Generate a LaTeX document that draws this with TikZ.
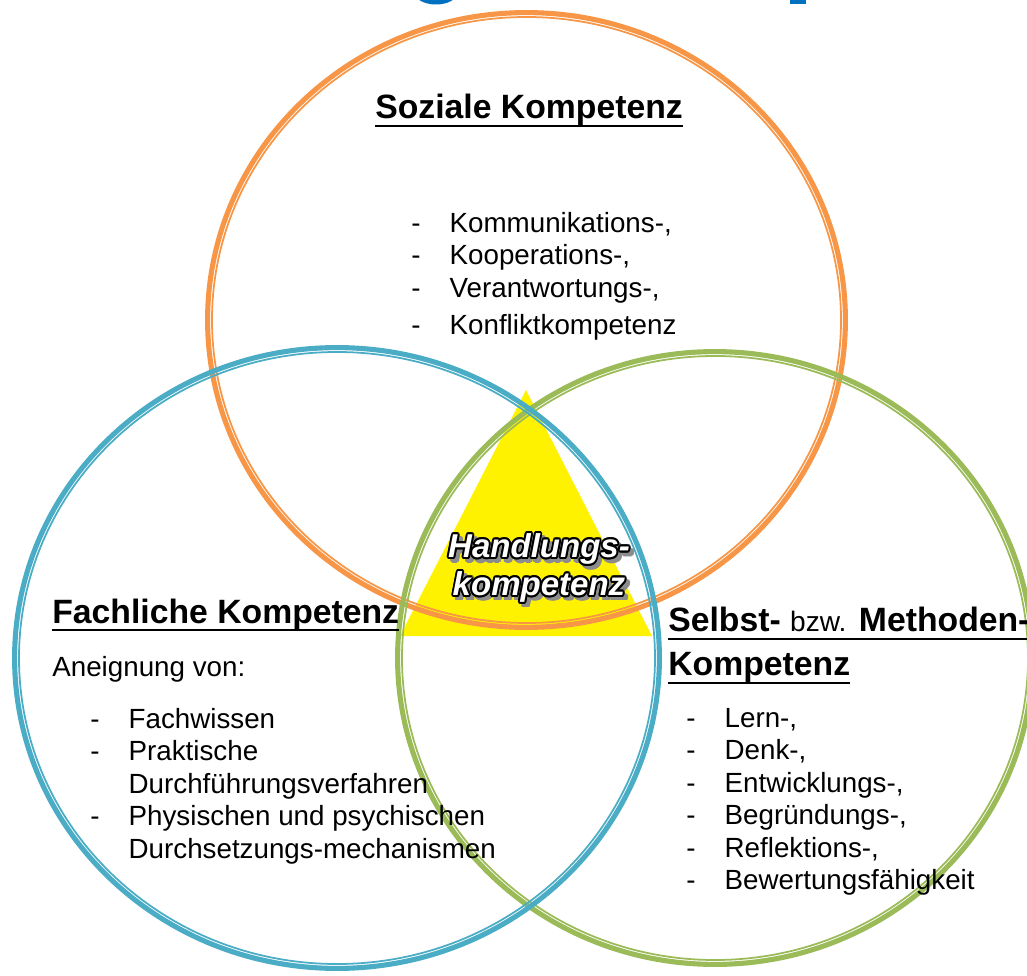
\documentclass[tikz,border=0pt]{standalone}
\usepackage{fontspec}
\setmainfont{Liberation Sans}
\usepackage{contour}
\usetikzlibrary{positioning}
\definecolor{sozorange}{HTML}{F79646}
\definecolor{fachblue}{HTML}{4BACC6}
\definecolor{selbgreen}{HTML}{9BBB59}
\definecolor{titleblue}{HTML}{0070C0}
\definecolor{hkshade}{HTML}{8C8C8C}
\contourlength{1.1pt}
\contournumber{12}
\newcommand{\ulk}[1]{\setbox0=\hbox{#1}\rlap{\rule[-4.8pt]{\wd0}{1.2pt}}\box0}
\newcommand{\itm}[1]{\makebox[21.8pt][l]{-}#1}
\newcommand{\cnt}[1]{\hspace*{21.8pt}#1}

\begin{document}
\begin{tikzpicture}[x=0.02cm, y=-0.02cm,
  head/.style={anchor=base west, inner sep=0pt, font=\fontsize{19.2}{25}\selectfont\bfseries},
  body/.style={anchor=north west, inner sep=0pt, align=left, font=\fontsize{15.8}{18.5}\selectfont},
  hk/.style={inner sep=0pt, align=center, text=white, font=\fontsize{18.8}{21.6}\selectfont\bfseries\itshape},
  outer ring/.style={line width=2.9pt},
  inner ring/.style={line width=1pt}]

\useasboundingbox (0,0) rectangle (1027,976);
\clip (0,0) rectangle (1027,976);

% Reste des Titels
\fill[titleblue] (436,-7) ellipse [x radius=21, y radius=11.5];
\fill[titleblue] (790,-10) rectangle (806,4);

% Dreieck
\coordinate (top) at (526,390);
\coordinate (bl) at (400,636);
\coordinate (br) at (652,636);
\fill[yellow] (top) -- (bl) -- (br) -- cycle;

% Kreise
\coordinate (soz) at (526.5,320);
\coordinate (fach) at (337,658);
\coordinate (selb) at (715,658);
\foreach \c/\col/\rx/\ry in {soz/sozorange/321.5/310, selb/selbgreen/320/309, fach/fachblue/325/313}{
  \draw[outer ring, \col] (\c) ellipse [x radius=\rx-2.6, y radius=\ry-2.6];
  \draw[inner ring, \col] (\c) ellipse [x radius=\rx-7, y radius=\ry-7];
}

% Soziale Kompetenz
\node[head] (sozhead) at (375,119) {\ulk{Soziale Kompetenz}};
\node[body] (sozlist) at (411,212) {\itm{Kommunikations-,}\\ \itm{Kooperations-,}\\
  \itm{Verantwortungs-,}\\[2.3pt] \itm{Konfliktkompetenz}};

% Fachliche Kompetenz
\node[head] (fachhead) at (52,623) {\ulk{Fachliche Kompetenz}};
\node[body, anchor=base west] (fachsub) at (52,676) {Aneignung von:};
\node[body] (fachlist) at (90,708) {\itm{Fachwissen}\\ \itm{Praktische}\\
  \cnt{Durchführungsverfahren}\\ \itm{Physischen und psychischen}\\
  \cnt{Durchsetzungs-mechanismen}};

% Selbst- bzw. Methodenkompetenz
\node[head, anchor=north west, align=left] (selbhead) at (668,607)
  {\ulk{Selbst- {\mdseries\fontsize{16}{25}\selectfont bzw.} Methoden-}\\ \ulk{Kompetenz}};
\node[body] (selblist) at (686,708) {\itm{Lern-,}\\ \itm{Denk-,}\\ \itm{Entwicklungs-,}\\
  \itm{Begründungs-,}\\ \itm{Reflektions-,}\\ \itm{Bewertungsfähigkeit}};

% Handlungskompetenz
\node[hk, text=hkshade] (hkshadow) at (542.5,572.5)
  {\contour{hkshade}{Handlungs-}\\ \contour{hkshade}{kompetenz}};
\node[hk] (hk) at (539,569) {\contour{black}{Handlungs-}\\ \contour{black}{kompetenz}};
\end{tikzpicture}
\end{document}
